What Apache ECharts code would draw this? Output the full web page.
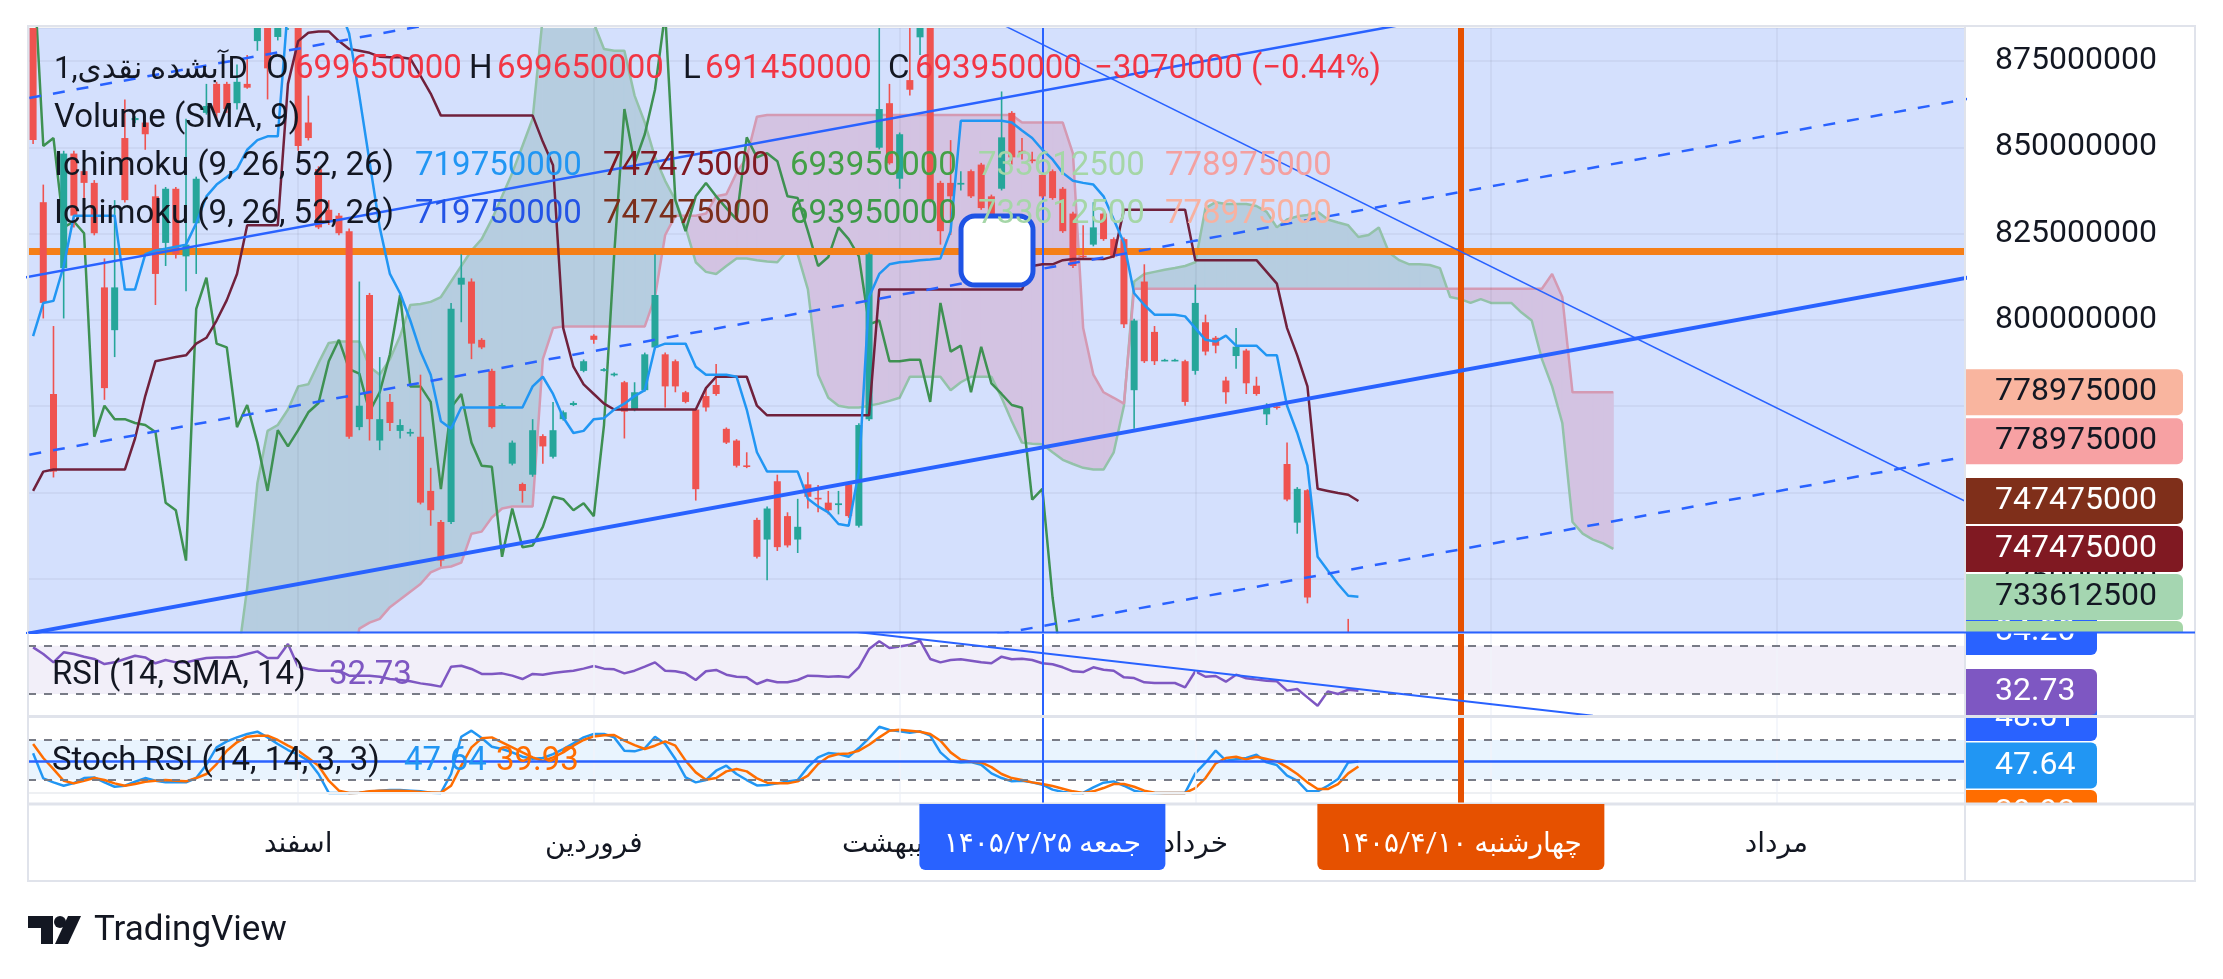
<!DOCTYPE html>
<html><head><meta charset="utf-8">
<script src="https://cdn.jsdelivr.net/npm/echarts@6/dist/echarts.min.js"></script>
<style>html,body{margin:0;padding:0;background:#fff}#c{width:2223px;height:979px}</style>
</head><body><div id="c"></div>
<script>
// ---------- DATA (prices in millions) ----------
const barCount = 190;
const categories = Array.from({length: barCount}, (_, i) => String(i));
// [open, close, low, high]
const candles = [
[892,852.1,851,895],[834.1,804.9,800.4,839.2],[778.5,756,754.3,798.2],[815,848.2,800.4,849],[848.2,830.2,826.8,849],
[843.1,839.7,835.3,844],[839.7,825.1,824.5,840.5],[809.4,780.2,776.8,817.8],[797,809.4,789.2,834.7],[852.7,834.7,834,863.9],
[857.9,858.5,857,859],[857.2,853.8,849.3,857.5],[835.8,813.3,804.3,839.2],[822.3,838,815.6,838.5],[838,819,817.8,838.5],
[818.4,821.8,808.3,858.3],[828,840.9,813.3,841.5],[860,862,859.5,868.4],[868.4,860,858,869],[868.4,861.1,860,869],
[862.8,869,861,874],[868.4,867.3,867,876.8],[880.8,886,878,890],[890,872.9,863.9,893],[882,886,881,892],
[886,905,884,910],[905,850.4,849,906],[857.2,852.7,852,865],[843.7,826.8,826.3,844.5],[831.9,828.5,827.5,834.7],
[830.2,825.1,824.5,831],[825.7,766.1,765.5,826.5],[768.9,775.1,768,811.1],[807.2,771.2,765,807.8],[765,771.2,762.2,789.2],
[776.2,770.1,767.8,778.5],[767.8,769.5,765.6,771.2],[767,767.5,766.2,768.4],[766.1,747,746.5,784.1],[750.4,744.8,740.3,757.1],
[741.4,730.2,728.5,742],[741.4,803.2,740.8,804.9],[810.2,812.2,799.3,819],[811.1,793.1,788.6,812],[794.2,792,791.5,794.7],
[785.2,768.9,768.5,785.8],[774.8,775.3,774.5,775.8],[758.3,764.4,757.8,765],[752.4,750.4,747,752.8],[755.1,768,754.5,771.2],
[766.3,763.3,758.3,766.8],[760.3,768,759.8,776.2],[771.2,773.2,770.8,773.7],[775.3,775.9,775,776.4],[785.2,788,784.8,788.5],
[795.4,794.2,793.1,795.8],[785.2,785.7,785,786],[783.9,784.4,783.6,784.7],[781.9,773.4,765.6,782.3],[774,779,773.5,781.9],
[779.6,790,779.2,790.5],[792,807.2,791.5,819],[790,780.7,774.6,790.5],[788,780.7,779,788.5],[779,776.2,775.8,779.4],
[774,750.9,747.6,774.4],[777.9,774.6,773.4,780.2],[781.1,778.5,778,787.2],[768.4,764.4,764,768.8],[765,757.7,757.2,765.4],
[757.8,757.4,757,761.6],[742,731.3,730.8,742.6],[736.3,745.3,724.5,745.9],[753.2,734.1,733,755.1],[743.1,734.6,734,744.2],
[736.3,740,732.4,748.1],[752.3,748.7,745.3,755.8],[748.4,748,744.2,752.1],[747,744.8,743.6,750.4],[746.3,746.8,743.6,750.4],
[752.3,743.1,742.6,752.8],[740.3,769.5,739.8,770],[771.2,819,770.7,819.5],[849.9,861.1,849.4,886],[862.8,845.4,845,868.4],
[840.9,853.8,838,854.3],[869.5,866.7,865,886],[881.9,889,876.8,893],[892,834.7,834,894],[839.7,825.7,821.8,840.3],
[839.7,835.8,824.6,852.1],[839.2,839.7,837.5,843.1],[843.1,835.8,835.3,843.6],[845,832.4,831.9,845.5],[835.8,829.1,828.5,836.3],
[838,852.9,837.5,866.2],[860,847.1,845,860.5],[849,848.3,846.5,852.7],[846.5,846,845.4,848.7],[842,835.8,835.3,842.5],
[843.1,835.3,834.8,843.6],[838,825.7,825.2,838.5],[830.8,815.6,815,831.3],[818.6,818.2,817.8,827.4],[821.8,826.8,821.3,834.1],
[830.8,823.4,822.9,831.3],[823.4,818.4,817.9,823.9],[823.4,798.7,797.6,823.9],[779.6,799.8,768.4,800.3],[811.1,788,787.5,816.1],
[796.5,788,786.9,798.2],[788.2,788.4,788,788.7],[788.2,788.4,788,788.7],[788,776.2,775.1,788.4],[785.2,804.9,784.1,810.2],
[799.3,790.8,789.7,801.5],[794.8,792.5,790.3,795.3],[782.4,779,775.7,783.5],[789.5,792.2,785.8,797.6],[791.1,781.6,778.5,791.6],
[780.9,778.5,778,783.5],[772.6,775.3,769.5,775.8],[774.9,774.5,774,775.7],[758.2,747.9,747.4,764.4],[741.2,751,738,751.5],
[750.6,719.5,717.8,750.9],[708,697,690,709],[697,688,676,702],[688,703,685,705],[703,697.02,694,713.3],
[699.65,693.95,691.45,699.65]
];
const tenkan = [
795.3,804.9,805.5,815.6,830.2,830.2,830.2,830.2,830.2,808.8,
808.8,819.0,820.1,820.6,821.2,821.8,828.0,835.8,839.2,841.4,
843.7,849.3,852.1,853.2,853.2,890.9,896.5,896.5,896.5,894.3,
890.9,883.0,865.0,845.9,826.8,813.3,807.7,799.8,790.8,784.1,
770.6,768.4,774.6,774.6,774.6,774.6,774.6,774.6,774.6,780.7,
783.5,778.5,771.7,767.2,767.8,771.2,771.5,774.0,775.7,777.9,
779.6,792.0,793.1,793.1,793.1,786.4,784.1,784.1,784.1,783.5,
774.0,761.6,756.0,756.0,756.0,756.0,748.1,745.9,744.2,740.8,
740.3,756.0,806.6,813.3,816.1,816.7,816.9,817.3,817.5,817.8,
825.7,857.7,857.7,857.7,857.7,857.7,857.2,854.9,852.7,849.3,
846.5,842.6,840.3,839.7,839.2,835.8,829.1,822.3,807.7,804.3,
801.5,801.5,801.5,801.0,797.6,794.2,793.7,795.4,792.5,792.5,
792.5,789.7,789.7,775.1,767.2,757.7,731.3,727.3,723.4,720.0,
719.75];
const kijun = [
750.4,756.0,756.6,756.6,756.6,756.6,756.6,756.6,756.6,756.6,
765.6,777.9,788.0,788.6,789.2,789.7,793.1,794.8,799.8,805.7,
813.3,827.4,827.4,827.4,827.4,868.4,880.8,883.2,883.6,883.6,
880.8,878.5,878.0,877.4,876.3,876.1,876.1,875.7,870.7,865.6,
859.2,859.2,859.2,859.2,859.2,859.2,859.2,859.2,859.2,859.2,
851.6,844.8,797.6,786.4,781.3,778.5,775.7,774.0,774.0,774.0,
774.0,774.0,774.0,774.0,774.0,774.0,780.2,783.5,783.5,783.5,
783.5,775.1,772.3,772.3,772.3,772.3,772.3,772.3,772.3,772.3,
772.3,772.3,772.3,808.8,808.8,808.8,808.8,808.8,808.8,808.8,
808.8,808.8,808.8,808.8,808.8,808.8,808.8,808.8,815.6,816.1,
816.1,817.3,817.6,817.6,817.6,817.6,818.4,831.9,831.9,831.9,
831.9,831.9,831.9,831.9,817.3,817.3,817.3,817.3,817.3,817.3,
817.3,813.9,810.5,797.6,789.7,780.7,751.0,750.4,749.8,749.3,
747.475];
const senkouA = [
700,700,700,700,700,700,700,700,700,700,
700,700,700,700,700,700,700,700,700,700,
700,722.3,752.6,767.8,769.5,774.0,780.7,781.3,787.5,793.3,
793.7,793.7,793.7,786.4,784.1,788.6,795.3,804.3,804.6,805.2,
806.6,811.1,815.6,820.1,823.4,829.1,835.8,842.6,850.4,858.3,
888,889,890,890,889,886,878.5,878,878,865.0,
857.2,847.1,840.3,834.7,826.8,816.7,813.9,813.3,815.6,817.8,
817.8,817.3,816.9,816.7,820.1,819.0,808.8,784.1,777.4,775.1,
774.6,774.6,775.1,775.7,776.5,777.4,783.5,783.5,783.5,783.5,
779.6,781.9,783.5,783.5,783.5,777.4,770.6,764.4,764.1,763.9,
761.6,759.4,758.2,757.1,756.6,756.6,761.6,775.1,811.1,813.3,
813.9,814.5,815.0,815.6,816.7,832.4,834.1,833.6,833.6,833.6,
833.0,831.3,826.8,829.1,830.0,830.4,831.3,829.1,828.2,827.4,
824.0,824.6,826.8,819.5,817.3,816.1,816.1,815.9,815.0,806.6,
806.0,804.9,806.0,804.9,804.9,804.9,802.1,799.8,788.6,780.7,
770.1,741.4,738.0,736.3,735.2,733.6125];
const senkouB = [
695,695,695,695,695,695,695,695,695,695,
695,695,695,695,695,695,695,695,695,695,
695,695,695,695,695,695,695,695,695,695,
695,695,710.5,712.2,713.3,716.7,718.9,721.2,723.4,726.8,
728.1,728.5,729.6,738.0,738.6,742.7,745.3,745.9,745.9,745.9,
788.6,797.6,798.1,798.1,798.1,798.1,798.1,798.1,798.1,798.1,
798.1,806.6,824.6,830.2,830.2,830.2,830.8,835.8,836.4,842.6,
847.1,858.9,859.4,859.4,859.4,859.4,859.4,859.4,859.4,859.4,
859.4,859.4,859.4,859.4,859.4,859.4,859.4,859.4,859.4,859.4,
859.4,859.4,859.4,859.4,859.4,859.4,859.4,857.2,857.2,857.2,
857.2,857.2,848.2,797.6,784.1,779.0,777.4,775.7,809.0,809.0,
809.0,809.0,809.0,809.0,809.0,809.0,809.0,809.0,809.0,809.0,
809.0,809.0,809.0,809.0,809.0,809.0,809.0,809.0,809.0,809.0,
809.0,809.0,809.0,809.0,809.0,809.0,809.0,809.0,809.0,809.0,
809.0,809.0,809.0,809.0,809.0,809.0,809.0,809.0,809.0,813.3,
806.6,778.975,778.975,778.975,778.975,778.975];
const rsi = [
68.6,63.1,56.2,64.5,63.1,60.9,59.0,54.8,56.2,59.0,
61.7,60.3,55.4,58.1,56.2,56.2,58.1,59.8,60.3,60.3,
60.9,63.1,65.3,59.8,59.8,71.4,52.6,50.7,49.3,49.3,
49.3,45.2,45.2,45.2,44.3,42.4,41.6,40.5,38.8,37.7,
36.1,52.6,53.4,50.7,46.6,46.6,47.1,45.2,42.4,46.6,
46.0,47.4,48.5,49.3,51.0,53.2,51.0,50.4,47.1,49.3,
52.6,56.2,49.3,48.8,47.1,41.6,48.8,49.9,46.0,44.3,
43.8,38.3,41.6,39.7,39.7,41.6,45.2,44.9,44.3,44.6,
43.8,52.1,67.2,73.6,68.1,69.4,70.8,74.1,59.0,56.2,
58.1,58.7,57.6,56.2,55.4,60.9,58.7,59.2,58.1,55.4,
54.6,52.1,48.8,48.2,52.1,50.1,49.3,43.8,43.2,39.7,
39.1,39.1,39.1,35.5,48.8,44.3,44.9,40.2,46.0,43.0,
41.9,41.0,40.5,32.8,34.2,27.2,20.3,32.2,30.0,33.6,
32.73];
const stochK = [
60.0,22.0,16.0,10.9,15.0,22.5,23.5,16.0,9.4,10.9,
17.0,22.5,18.5,16.0,16.0,16.0,22.5,42.7,68.9,78.0,
84.0,89.1,92.6,84.0,74.0,64.9,57.8,48.8,28.6,0,
0,0,0.3,1.8,3.4,4.4,4.4,3.4,2.4,0.3,
0,28.6,85.0,94.1,83.0,69.9,66.4,61.3,54.8,51.8,
52.8,58.8,66.4,75.0,84.0,89.1,89.1,84.0,63.9,62.9,
67.4,85.0,74.0,51.3,23.5,16.0,19.5,33.6,41.2,28.6,
19.5,11.4,11.9,14.5,17.5,19.5,39.0,53.8,60.3,58.8,
54.8,67.9,83.0,100,95.1,93.1,91.1,93.1,86.6,61.3,
47.7,46.2,46.7,42.7,29.6,22.5,17.5,18.5,16.0,12.4,
5.0,1.3,0,0,8.4,15.5,17.5,10.9,3.4,0.3,
0,0,0,0,29.6,45.7,63.9,48.8,50.8,52.8,
57.8,46.2,42.2,26.1,18.5,2.4,2.4,10.9,21.0,46.2,
47.64];
const stochD = [
74.0,52.8,36.1,18.5,14.5,18.5,22.5,19.5,14.5,10.9,
13.5,17.0,18.5,19.5,18.5,17.5,22.5,28.6,43.7,63.9,
76.5,85.0,86.6,86.6,80.0,71.4,63.9,52.8,41.2,18.5,
3.4,0,0.3,2.4,3.4,3.4,3.4,2.4,1.3,0.8,
0.3,10.9,41.2,68.9,82.5,84.0,76.5,68.9,61.3,53.8,
48.3,53.8,61.3,71.4,80.0,85.5,87.1,87.6,79.0,72.4,
66.4,71.4,78.0,71.4,48.8,31.1,20.0,22.5,32.6,36.1,
32.6,22.0,15.5,14.5,14.5,17.5,26.1,43.7,54.8,58.8,
59.8,63.9,72.9,84.0,94.1,95.6,94.1,92.6,89.1,79.0,
61.3,50.3,47.2,46.2,39.0,28.6,22.5,19.5,16.0,13.5,
10.4,6.4,2.4,0,2.4,7.4,13.5,13.5,9.4,3.4,
0.3,0,0,0,7.4,22.5,44.7,52.8,54.8,50.8,
54.8,51.3,47.7,39.0,28.6,16.0,5.9,5.9,13.5,29.6,
39.93];
const chikouShift = 25;
const monthMarks = [[26,'اسفند'],[55,'فروردین'],[85,'اردیبهشت'],[114,'خرداد'],[143,'تیر'],[171,'مرداد']];
// trend line drawings: [[barIndex, price], [barIndex, price]]
const channelThick = [[-5,706.6],[200,817.8]];
const channelUpper = [[-5,810.0],[200,921.2]];
const channelMidDash = [[-5,758.4],[200,869.6]];
const channelTopDash = [[-5,861.8],[200,973.0]];
const channelLowDash = [[-5,654.8],[200,766.0]];
const thinDown = [[90,893.0],[200,732.1]];
const rsiTrend = [[75,86.9],[153,12.0]];
const hLevel = 820;
const stochLevel = 48.01;
const crossIndex = 99, markIndex = 140;
const crossDate = 'جمعه ۱۴۰۵/۲/۲۵';
const markDate = 'چهارشنبه ۱۴۰۵/۴/۱۰';
const symbolTitle = 'آبشده نقدی,1D';
const ohlcLegend = [['O','699650000'],['H','699650000'],['L','691450000'],['C','693950000']];
const changeText = '−3070000 (−0.44%)';
const ichiTitle = 'Ichimoku (9, 26, 52, 26)';
const ichiValues = ['719750000','747475000','693950000','733612500','778975000'];
const rsiTitle = 'RSI (14, SMA, 14)', rsiValue = '32.73';
const stochTitle = 'Stoch RSI (14, 14, 3, 3)', stochKValue = '47.64', stochDValue = '39.93';
const rsiCursorValue = '84.20', stochLineValue = '48.01';

// ---------- CHART ----------
const FONT = 'Roboto, "DejaVu Sans", sans-serif';
const chart = echarts.init(document.getElementById('c'), null, {renderer: 'canvas'});
const chikou = candles.map((_, i) => i + chikouShift < candles.length ? candles[i + chikouShift][1] : null);
const cloudSeg = [];
for (let i = 0; i < senkouA.length - 1; i++) cloudSeg.push([i, senkouA[i], senkouB[i], senkouA[i+1], senkouB[i+1]]);
const candleRows = candles.map((d, i) => [i, d[0], d[1], d[2], d[3]]);

const TEAL = '#b6cde0', PINK = '#d3c3e2';
function cloudItem(params, api) {
  const i = api.value(0), a0 = api.value(1), b0 = api.value(2), a1 = api.value(3), b1 = api.value(4);
  const A0 = api.coord([i, a0]), B0 = api.coord([i, b0]), A1 = api.coord([i + 1, a1]), B1 = api.coord([i + 1, b1]);
  const d0 = a0 - b0, d1 = a1 - b1;
  const poly = (pts, c) => ({type: 'polygon', shape: {points: pts}, style: {fill: c, stroke: c, lineWidth: 1}});
  const children = [];
  if (d0 * d1 >= 0) {
    children.push(poly([A0, A1, B1, B0], (d0 + d1) >= 0 ? TEAL : PINK));
  } else {
    const t = d0 / (d0 - d1);
    const X = [A0[0] + t * (A1[0] - A0[0]), A0[1] + t * (A1[1] - A0[1])];
    children.push(poly([A0, X, B0], d0 > 0 ? TEAL : PINK));
    children.push(poly([X, A1, B1], d1 > 0 ? TEAL : PINK));
  }
  return {type: 'group', children};
}
function candleItem(params, api) {
  const i = api.value(0), o = api.value(1), c = api.value(2), l = api.value(3), h = api.value(4);
  const pO = api.coord([i, o]), pC = api.coord([i, c]), pL = api.coord([i, l]), pH = api.coord([i, h]);
  const col = c >= o ? '#26a69a' : '#ef5350';
  const w = 7, x = pO[0];
  const top = Math.min(pO[1], pC[1]), bot = Math.max(pO[1], pC[1]);
  return {type: 'group', children: [
    {type: 'line', shape: {x1: x, y1: pH[1], x2: x, y2: pL[1]}, style: {stroke: col, lineWidth: 1.6}},
    {type: 'rect', shape: {x: x - w / 2, y: top, width: w, height: Math.max(1.6, bot - top)}, style: {fill: col}}
  ]};
}

const monthLineData = (color) => monthMarks.map(m => ({xAxis: m[0], lineStyle: {color, width: 1.5, type: 'solid'}}));
const vertMarks = [
  {xAxis: crossIndex, lineStyle: {color: '#2962ff', width: 2, type: 'solid'}},
  {xAxis: markIndex, lineStyle: {color: '#e65100', width: 6, type: 'solid'}}
];
const mlBase = {symbol: ['none', 'none'], silent: true, label: {show: false}, animation: false};
const trend = (data, width, type, xi, yi, z) => ({
  type: 'line', xAxisIndex: xi, yAxisIndex: yi, data, symbol: 'none', silent: true, clip: true, z,
  lineStyle: {color: '#2962ff', width, type}, animation: false
});
const xBase = (gi, show) => ({
  type: 'category', gridIndex: gi, data: categories, boundaryGap: true,
  axisLine: {show: false}, axisTick: {show: false}, splitLine: {show: false},
  axisLabel: show ? {
    show: true, interval: (i) => monthMarks.some(m => m[0] === i),
    formatter: (v, i) => { const m = monthMarks.find(mm => mm[0] === i); return m ? m[1] : ''; },
    margin: 42, verticalAlign: 'middle', fontSize: 28, color: '#131722', fontFamily: FONT
  } : {show: false}
});

const option = {
  animation: false,
  backgroundColor: '#ffffff',
  textStyle: {fontFamily: FONT},
  grid: [
    {left: 28, top: 28, width: 1937, height: 604, show: true, backgroundColor: '#d4e0fd', borderWidth: 0, outerBoundsMode: 'none', containLabel: false},
    {left: 28, top: 634, width: 1937, height: 82, show: false, outerBoundsMode: 'none', containLabel: false},
    {left: 28, top: 717, width: 1937, height: 86, show: false, outerBoundsMode: 'none', containLabel: false}
  ],
  xAxis: [xBase(0, false), xBase(1, false), xBase(2, true)],
  yAxis: [
    {type: 'value', gridIndex: 0, position: 'right', min: 709.5, max: 884.6, minInterval: 25, maxInterval: 25, splitNumber: 7,
     axisLine: {show: false}, axisTick: {show: false},
     splitLine: {show: true, lineStyle: {color: 'rgba(42,46,57,0.07)', width: 1.5}},
     axisLabel: {show: true, showMinLabel: false, showMaxLabel: false, margin: 30, fontSize: 32, color: '#131722', fontFamily: FONT,
       formatter: (v) => Math.abs(v / 25 - Math.round(v / 25)) < 1e-6 ? String(Math.round(v * 1e6)) : ''}},
    {type: 'value', gridIndex: 1, position: 'right', min: 11.8, max: 79.66, show: false, splitLine: {show: false}},
    {type: 'value', gridIndex: 2, position: 'right', min: -15.2, max: 114.8, show: false, splitLine: {show: false}}
  ],
  series: [
    {type: 'line', xAxisIndex: 0, yAxisIndex: 0, data: [], z: 1, silent: true,
     markLine: Object.assign({}, mlBase, {data: monthLineData('rgba(42,46,57,0.07)')})},
    {type: 'custom', xAxisIndex: 0, yAxisIndex: 0, data: cloudSeg, renderItem: cloudItem, encode: {x: 0, y: 1}, clip: true, silent: true, z: 2},
    {type: 'line', name: 'Lead 1', xAxisIndex: 0, yAxisIndex: 0, data: senkouA, symbol: 'none', silent: true, z: 3,
     lineStyle: {color: '#93c2a9', width: 2.5}},
    {type: 'line', name: 'Lead 2', xAxisIndex: 0, yAxisIndex: 0, data: senkouB, symbol: 'none', silent: true, z: 3,
     lineStyle: {color: '#d49ab3', width: 2.5}},
    {type: 'line', name: 'Lagging', xAxisIndex: 0, yAxisIndex: 0, data: chikou, symbol: 'none', silent: true, z: 4,
     lineStyle: {color: '#3e9152', width: 2.5}},
    {type: 'custom', name: 'Price', xAxisIndex: 0, yAxisIndex: 0, data: candleRows, renderItem: candleItem,
     encode: {x: 0, y: [1, 2, 3, 4]}, clip: true, silent: true, z: 5},
    {type: 'line', name: 'Base', xAxisIndex: 0, yAxisIndex: 0, data: kijun, symbol: 'none', silent: true, z: 6,
     lineStyle: {color: '#70213c', width: 2.5}},
    {type: 'line', name: 'Conversion', xAxisIndex: 0, yAxisIndex: 0, data: tenkan, symbol: 'none', silent: true, z: 6,
     lineStyle: {color: '#2196f3', width: 2.5}},
    trend(channelLowDash, 2.5, [12, 12], 0, 0, 10),
    trend(channelMidDash, 2.5, [12, 12], 0, 0, 10),
    trend(channelTopDash, 2.5, [12, 12], 0, 0, 10),
    trend(channelUpper, 2.5, 'solid', 0, 0, 10),
    trend(channelThick, 4, 'solid', 0, 0, 10),
    trend(thinDown, 1.5, 'solid', 0, 0, 10),
    {type: 'line', xAxisIndex: 0, yAxisIndex: 0, data: [], z: 12, silent: true,
     markLine: Object.assign({}, mlBase, {data: [{yAxis: hLevel, lineStyle: {color: '#f57f17', width: 7, type: 'solid'}}].concat(vertMarks)})},
    // RSI pane
    {type: 'line', xAxisIndex: 1, yAxisIndex: 1, data: [], z: 1, silent: true,
     markLine: Object.assign({}, mlBase, {data: monthLineData('#f0f3fa')})},
    {type: 'line', name: 'RSI', xAxisIndex: 1, yAxisIndex: 1, data: rsi, symbol: 'none', silent: true, z: 4,
     lineStyle: {color: '#7e57c2', width: 2.5},
     markArea: {silent: true, itemStyle: {color: '#f2eff9'}, data: [[{yAxis: 30}, {yAxis: 70}]]},
     markLine: Object.assign({}, mlBase, {data: [
       {yAxis: 70, lineStyle: {color: '#787b86', width: 2, type: [8, 8]}},
       {yAxis: 30, lineStyle: {color: '#787b86', width: 2, type: [8, 8]}}]})},
    trend(rsiTrend, 2, 'solid', 1, 1, 10),
    {type: 'line', xAxisIndex: 1, yAxisIndex: 1, data: [], z: 12, silent: true,
     markLine: Object.assign({}, mlBase, {data: vertMarks})},
    // Stoch pane
    {type: 'line', xAxisIndex: 2, yAxisIndex: 2, data: [], z: 1, silent: true,
     markLine: Object.assign({}, mlBase, {data: monthLineData('#f0f3fa')})},
    {type: 'line', name: 'K', xAxisIndex: 2, yAxisIndex: 2, data: stochK, symbol: 'none', silent: true, z: 4,
     lineStyle: {color: '#2196f3', width: 2.5},
     markArea: {silent: true, itemStyle: {color: '#e9f4fe'}, data: [[{yAxis: 20}, {yAxis: 80}]]},
     markLine: Object.assign({}, mlBase, {data: [
       {yAxis: 80, lineStyle: {color: '#787b86', width: 2, type: [8, 8]}},
       {yAxis: 20, lineStyle: {color: '#787b86', width: 2, type: [8, 8]}},
       {yAxis: 0, lineStyle: {color: '#eef0f3', width: 2, type: 'solid'}},
       {yAxis: stochLevel, lineStyle: {color: '#2962ff', width: 2.5, type: 'solid'}}]})},
    {type: 'line', name: 'D', xAxisIndex: 2, yAxisIndex: 2, data: stochD, symbol: 'none', silent: true, z: 4,
     lineStyle: {color: '#ff6d00', width: 2.5}},
    {type: 'line', xAxisIndex: 2, yAxisIndex: 2, data: [], z: 12, silent: true,
     markLine: Object.assign({}, mlBase, {data: vertMarks})}
  ]
};
chart.setOption(option);

// ---------- OVERLAYS (labels, legend, frame) ----------
const g = [];
const F = (size) => size + 'px ' + FONT;
const txt = (x, y, text, fill, size, align, z) => ({type: 'text', x, y, z: z || 100, silent: true,
  style: {text, fill, font: F(size || 33), textAlign: align || 'left', textVerticalAlign: 'middle'}});
const rect = (x, y, w, h, fill, r, z, extra) => ({type: 'rect', z: z || 50, silent: true,
  shape: {x, y, width: w, height: h, r: r || 0}, style: Object.assign({fill}, extra || {})});
const line = (x1, y1, x2, y2, stroke, w, z) => ({type: 'line', z: z || 60, silent: true,
  shape: {x1, y1, x2, y2}, style: {stroke, lineWidth: w}});

const yMain = (v) => chart.convertToPixel({yAxisIndex: 0}, v);
const xCat = (i) => chart.convertToPixel({xAxisIndex: 2}, i);

// legend
const RED = '#f23645';
g.push(txt(54, 70, symbolTitle, '#131722', 31));
const ohlcX = [[266, 295], [469, 497], [683, 705], [888, 915]];
ohlcLegend.forEach((p, k) => { g.push(txt(ohlcX[k][0], 70, p[0], '#131722')); g.push(txt(ohlcX[k][1], 70, p[1], RED)); });
g.push(txt(1094, 70, changeText, RED));
g.push(txt(54, 119, 'Volume (SMA, 9)', '#131722'));
const ichiX = [415, 603, 790, 978, 1165];
const ichiColors1 = ['#2196f3', '#801922', '#43a047', '#a5d6a7', '#f4a0a0'];
const ichiColors2 = ['#2354e6', '#7b2e1b', '#3c9a48', '#a5d6a7', '#f8b1a0'];
g.push(txt(54, 167, ichiTitle, '#131722'));
g.push(txt(54, 215, ichiTitle, '#131722'));
ichiValues.forEach((v, k) => { g.push(txt(ichiX[k], 167, v, ichiColors1[k])); g.push(txt(ichiX[k], 215, v, ichiColors2[k])); });
g.push(txt(52, 676, rsiTitle, '#131722', 33));
g.push(txt(329, 676, rsiValue, '#7e57c2', 33));
g.push(txt(52, 762, stochTitle, '#131722', 33));
g.push(txt(404, 762, stochKValue, '#2196f3', 33));
g.push(txt(496, 762, stochDValue, '#ff6d00', 33));

// handle box on horizontal line
g.push(rect(961, 216, 72, 69, '#ffffff', 14, 90, {stroke: '#1e53e5', lineWidth: 5}));

// price tags
const TAGX = 1965, TAGW = 218, TAGH = 46, TX = 1995;
const yS = yMain(778.975), yB = yMain(747.475);
const tag = (cy, bg, fg, text, w, z) => { g.push(rect(TAGX, cy - TAGH / 2, w, TAGH, bg, [0, 6, 6, 0], z)); g.push(txt(TX, cy, text, fg, 32, 'left', z + 1)); };
tag(yS, '#f9b59f', '#131722', ichiValues[4], TAGW, 52);
tag(yS + 49, '#f7a1a3', '#131722', ichiValues[4], TAGW, 52);
tag(yB, '#7f2f1a', '#ffffff', ichiValues[1], TAGW, 52);
tag(yB + 48, '#801922', '#ffffff', ichiValues[1], TAGW, 52);
tag(632, '#2962ff', '#ffffff', rsiCursorValue, 132, 50);
tag(yB + 96, '#a5d6b1', '#131722', ichiValues[3], TAGW, 54);
g.push(rect(TAGX, yB + 120, TAGW, Math.max(0, 633 - (yB + 120)), '#a5d6a7', [0, 6, 0, 0], 56));
tag(718, '#2962ff', '#ffffff', stochLineValue, 132, 50);
tag(692, '#7e57c2', '#ffffff', rsiValue, 132, 54);
tag(765.6, '#2196f3', '#ffffff', stochKValue, 132, 54);
tag(813, '#ff6d00', '#ffffff', stochDValue, 132, 50);
g.push(rect(1966, 805, 229, 76, '#ffffff', 0, 57));

// frame & separators
g.push(rect(28, 26, 2167, 855, 'none', 0, 70, {stroke: '#e0e3eb', lineWidth: 2}));
g.push(line(1965, 26, 1965, 881, '#e0e3eb', 2, 70));
g.push(line(28, 716.5, 2195, 716.5, '#e0e3eb', 3, 70));
g.push(line(28, 804, 2195, 804, '#e0e3eb', 3, 70));
g.push(line(28, 632.5, 2195, 632.5, '#2962ff', 2, 71));

// date boxes on time axis
const cx = xCat(crossIndex), mx = xCat(markIndex);
g.push(rect(cx - 123, 804, 246, 66, '#2962ff', [0, 0, 6, 6], 80));
g.push(txt(cx, 845, crossDate, '#ffffff', 28, 'center', 81));
g.push(rect(mx - 143, 804, 287, 66, '#e65100', [0, 0, 6, 6], 80));
g.push(txt(mx, 845, markDate, '#ffffff', 28, 'center', 81));

// TradingView logo
g.push({type: 'polygon', z: 100, silent: true, shape: {points: [[28,916],[53,916],[53,944],[41,944],[41,928],[28,928]]}, style: {fill: '#131722'}});
g.push({type: 'circle', z: 100, silent: true, shape: {cx: 60, cy: 922, r: 6}, style: {fill: '#131722'}});
g.push({type: 'polygon', z: 100, silent: true, shape: {points: [[68,916],[81,916],[68,944],[55,944]]}, style: {fill: '#131722'}});
g.push(txt(94, 931, 'TradingView', '#131722', 35));

chart.setOption({graphic: g});
</script></body></html>
